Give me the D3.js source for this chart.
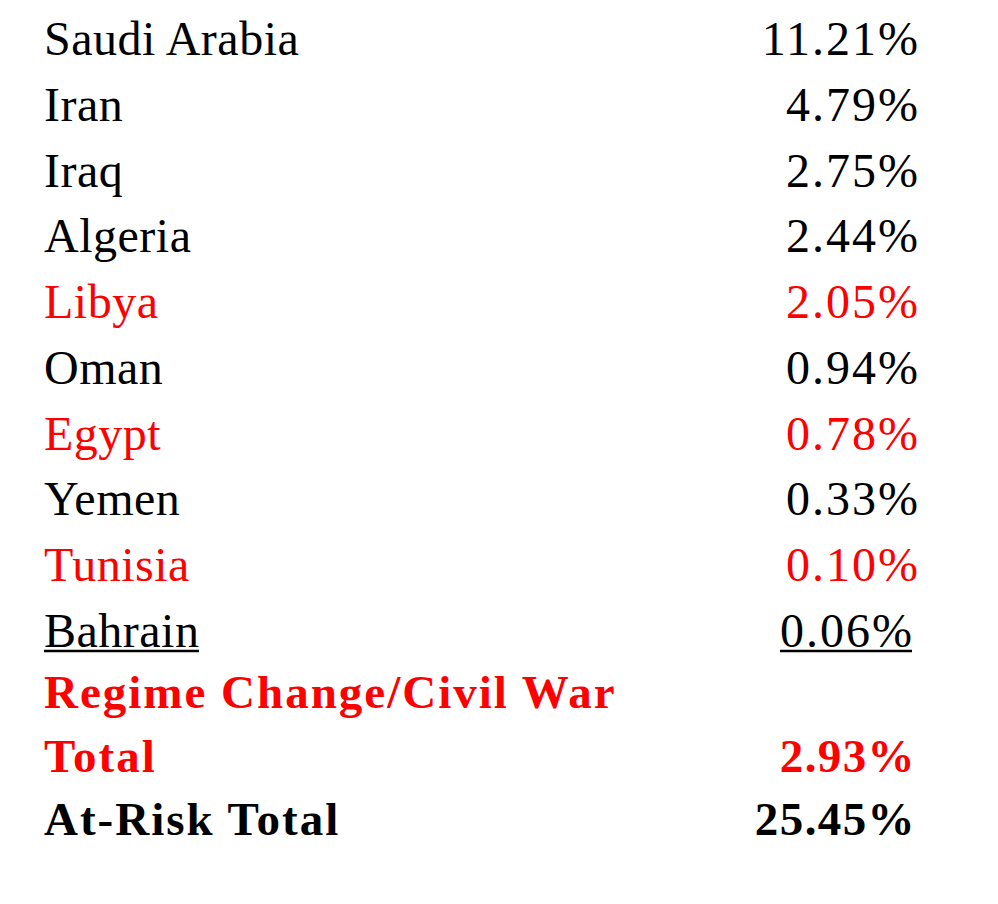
<!DOCTYPE html>
<html>
<head>
<meta charset="utf-8">
<script src="https://cdn.jsdelivr.net/npm/d3@7"></script>
<style>
  html, body { margin: 0; padding: 0; background: #fff; }
  svg { display: block; }
</style>
</head>
<body>
<svg id="chart" width="998" height="904"></svg>
<script>
// country shares of world oil production
const countries = ["Saudi Arabia", "Iran", "Iraq", "Algeria", "Libya", "Oman", "Egypt", "Yemen", "Tunisia", "Bahrain"];
const shares = [11.21, 4.79, 2.75, 2.44, 2.05, 0.94, 0.78, 0.33, 0.10, 0.06];
const regimeChange = ["Libya", "Egypt", "Tunisia"];

// summary rows
const summaryLabels = ["Regime Change/Civil War", "Total", "At-Risk Total"];
const summaryValues = [null, 2.93, 25.45];
const summaryRed = [true, true, false];

const width = 998, height = 904;
const RED = "#ff0000";
const svg = d3.select("#chart");

const fmt = d => d3.format(".2f")(d) + "%";

// row positions
const yRows = d3.scalePoint()
    .domain(d3.range(countries.length))
    .range([55, 647]);
const ySummary = d3.scalePoint()
    .domain(d3.range(summaryLabels.length))
    .range([708, 835]);

const xLabel = 44, xValue = 920;

// country rows
const rows = svg.append("g")
    .selectAll("g")
    .data(countries)
    .join("g")
    .attr("transform", (d, i) => `translate(0,${yRows(i)})`)
    .attr("fill", d => regimeChange.includes(d) ? RED : "#000")
    .style("font-family", "'Liberation Serif', 'Times New Roman', serif")
    .style("font-size", "48px");

rows.append("text")
    .attr("x", xLabel)
    .style("letter-spacing", "0.5px")
    .text(d => d);

rows.append("text")
    .attr("x", (d, i) => i === countries.length - 1 ? xValue - 6 : xValue)
    .attr("text-anchor", "end")
    .style("letter-spacing", "2px")
    .text((d, i) => fmt(shares[i]));

// underline the last row (label and value)
rows.filter((d, i) => i === countries.length - 1)
    .selectAll("text")
    .each(function () {
        const b = this.getBBox();
        const isValue = this.getAttribute("text-anchor") === "end";
        d3.select(this.parentNode).append("line")
            .attr("x1", b.x)
            .attr("x2", b.x + b.width - (isValue ? 2 : 0.5))
            .attr("y1", 4)
            .attr("y2", 4)
            .attr("stroke", "#000")
            .attr("stroke-width", 2.5);
    });

// summary rows
const sum = svg.append("g")
    .selectAll("g")
    .data(summaryLabels)
    .join("g")
    .attr("transform", (d, i) => `translate(0,${ySummary(i)})`)
    .attr("fill", (d, i) => summaryRed[i] ? RED : "#000")
    .style("font-family", "'Liberation Serif', 'Times New Roman', serif")
    .style("font-size", "47px")
    .style("font-weight", "bold");

sum.append("text")
    .attr("x", xLabel)
    .style("letter-spacing", "2px")
    .text(d => d);

sum.append("text")
    .attr("x", xValue - 4)
    .attr("text-anchor", "end")
    .style("letter-spacing", "1.4px")
    .text((d, i) => summaryValues[i] == null ? "" : fmt(summaryValues[i]));
</script>
</body>
</html>
